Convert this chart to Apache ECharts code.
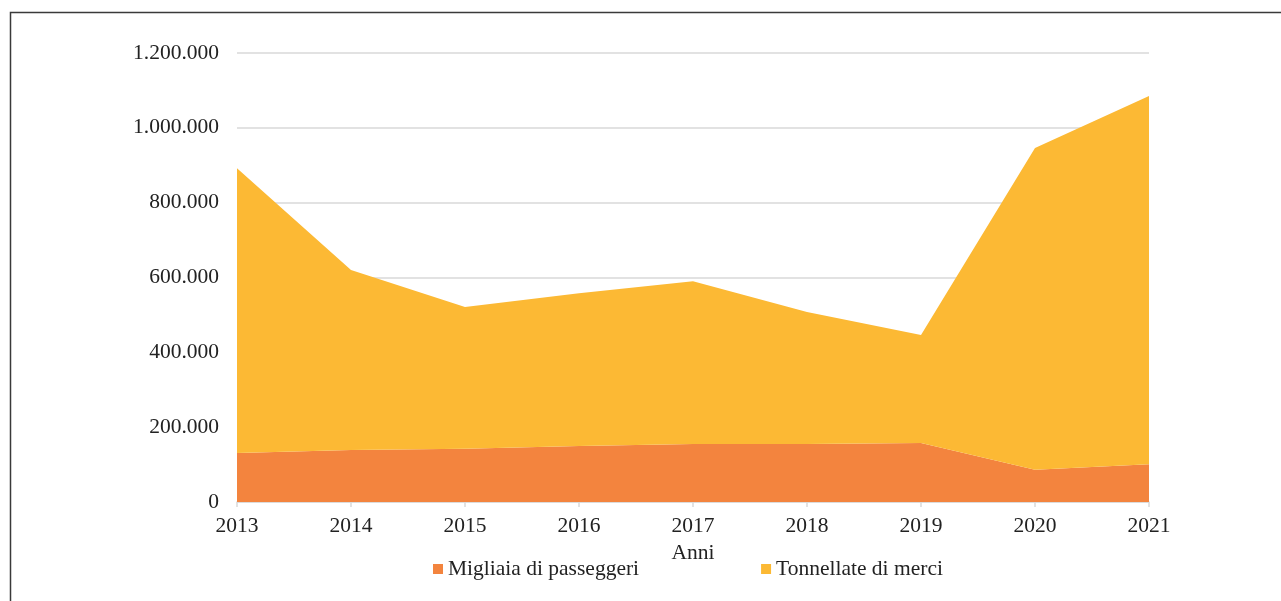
<!DOCTYPE html>
<html>
<head>
<meta charset="utf-8">
<script src="https://cdn.jsdelivr.net/npm/echarts@6/dist/echarts.min.js"></script>
<style>
html,body{margin:0;padding:0;background:#fff;}
#chart{width:1281px;height:601px;}
</style>
</head>
<body>
<div id="chart"></div>
<script>
const years = ['2013','2014','2015','2016','2017','2018','2019','2020','2021'];
const passeggeri = [131000, 139000, 142000, 150000, 155000, 155000, 158000, 86000, 101000];
const merci = [761000, 481000, 379000, 408000, 435000, 353000, 288000, 860000, 984000];
const seriesNames = ['Migliaia di passeggeri', 'Tonnellate di merci'];
const xAxisName = 'Anni';

function fmt(v){
  return String(v).replace(/\B(?=(\d{3})+(?!\d))/g, '.');
}

const FONT = '"Liberation Serif", "Times New Roman", serif';
const FS = 21.5;
const chart = echarts.init(document.getElementById('chart'), null, {renderer:'canvas'});
chart.setOption({
  animation: false,
  backgroundColor: '#fff',
  textStyle: {fontFamily: FONT},
  graphic: [{
    type: 'rect',
    shape: {x: 10.5, y: 12.5, width: 1300, height: 700},
    style: {fill: 'none', stroke: '#3a3a3a', lineWidth: 1.5},
    silent: true
  }],
  grid: {left: 237, right: 132, top: 53, bottom: 99, containLabel: false},
  legend: {
    data: seriesNames,
    left: 428,
    top: 553,
    itemWidth: 10,
    itemHeight: 10,
    itemGap: 122,
    icon: 'rect',
    textStyle: {fontFamily: FONT, fontSize: FS, color: '#222'}
  },
  xAxis: {
    type: 'category',
    data: years,
    boundaryGap: false,
    name: xAxisName,
    nameLocation: 'middle',
    nameGap: 38,
    nameTextStyle: {fontFamily: FONT, fontSize: FS, color: '#222'},
    axisLine: {lineStyle: {color: '#d9d9d9', width: 1.5}},
    axisTick: {show: true, length: 5, lineStyle: {color: '#d9d9d9', width: 1.5}},
    axisLabel: {fontFamily: FONT, fontSize: FS, color: '#222', margin: 13},
    splitLine: {show: false}
  },
  yAxis: {
    type: 'value',
    min: 0,
    max: 1200000,
    interval: 200000,
    axisLine: {show: false},
    axisTick: {show: false},
    axisLabel: {fontFamily: FONT, fontSize: FS, color: '#222', margin: 18, formatter: fmt},
    splitLine: {lineStyle: {color: '#d9d9d9', width: 1.5}}
  },
  series: [
    {
      name: seriesNames[0],
      type: 'line',
      stack: 'tot',
      data: passeggeri,
      showSymbol: false,
      symbol: 'none',
      lineStyle: {width: 0},
      itemStyle: {color: '#F3843E'},
      areaStyle: {color: '#F3843E', opacity: 1}
    },
    {
      name: seriesNames[1],
      type: 'line',
      stack: 'tot',
      data: merci,
      showSymbol: false,
      symbol: 'none',
      lineStyle: {width: 0},
      itemStyle: {color: '#FCB934'},
      areaStyle: {color: '#FCB934', opacity: 1}
    }
  ]
});
</script>
</body>
</html>
